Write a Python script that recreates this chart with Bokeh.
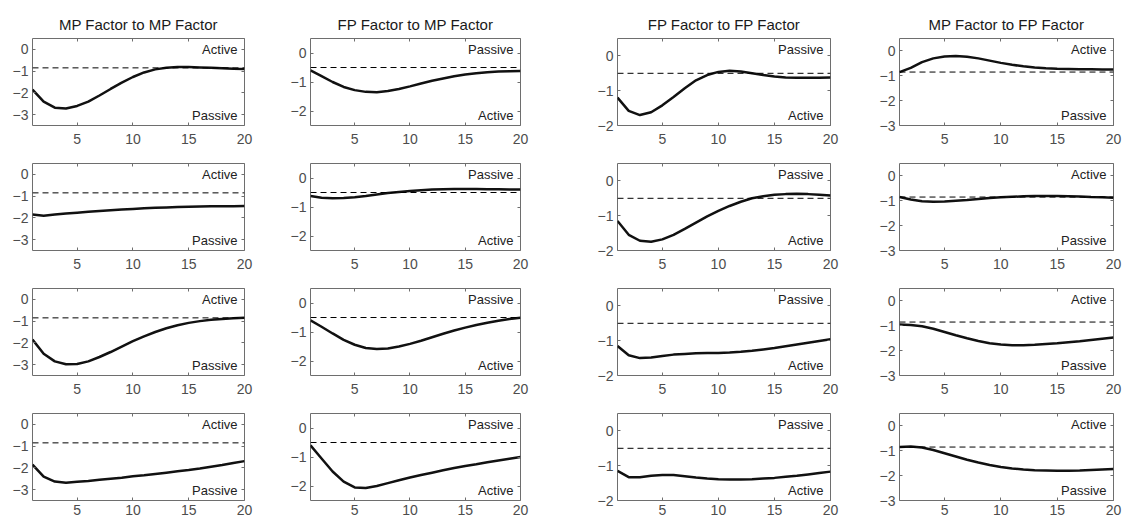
from bokeh.plotting import figure
from bokeh.layouts import column, row
from bokeh.models import LinearAxis, FixedTicker, Span, Label
from bokeh.embed import file_html
from bokeh.resources import INLINE

# horizons 1..20
horizon = list(range(1, 21))

titles = ["MP Factor to MP Factor", "FP Factor to MP Factor", "FP Factor to FP Factor", "MP Factor to FP Factor"]
top_words = ["Active", "Passive", "Passive", "Active"]
bottom_words = ["Passive", "Active", "Active", "Passive"]
y_lows = [-3.5, -2.5, -2, -3]
y_highs = [0.5, 0.5, 0.5, 0.5]
y_ticks = [[-3, -2, -1, 0], [-2, -1, 0], [-2, -1, 0], [-3, -2, -1, 0]]
x_ticks = [5, 10, 15, 20]
dash_levels = [-0.85, -0.5, -0.5, -0.85]

# MP Factor to MP Factor, one list per row
mp_mp = [
    [-1.85, -2.4, -2.68, -2.72, -2.6, -2.4, -2.12, -1.82, -1.53, -1.27, -1.06, -0.92, -0.84, -0.81, -0.81, -0.83, -0.85, -0.87, -0.89, -0.9],
    [-1.85, -1.9, -1.85, -1.8, -1.76, -1.72, -1.68, -1.65, -1.62, -1.59, -1.56, -1.54, -1.52, -1.5, -1.49, -1.48, -1.47, -1.46, -1.46, -1.45],
    [-1.85, -2.5, -2.85, -2.98, -2.97, -2.85, -2.65, -2.42, -2.17, -1.92, -1.7, -1.5, -1.33, -1.19, -1.08, -1.0, -0.94, -0.9, -0.87, -0.85],
    [-1.85, -2.4, -2.63, -2.68, -2.64, -2.6, -2.55, -2.5, -2.45, -2.39, -2.34, -2.28, -2.22, -2.16, -2.1, -2.03, -1.95, -1.87, -1.78, -1.69],
]
# FP Factor to MP Factor
fp_mp = [
    [-0.6, -0.8, -1.0, -1.17, -1.28, -1.34, -1.35, -1.31, -1.24, -1.15, -1.05, -0.96, -0.88, -0.8, -0.74, -0.7, -0.66, -0.64, -0.63, -0.62],
    [-0.62, -0.68, -0.7, -0.69, -0.66, -0.62, -0.57, -0.52, -0.48, -0.45, -0.42, -0.4, -0.39, -0.38, -0.38, -0.38, -0.39, -0.39, -0.4, -0.4],
    [-0.6, -0.82, -1.05, -1.27, -1.44, -1.55, -1.59, -1.57, -1.5, -1.41, -1.3, -1.18, -1.06, -0.95, -0.85, -0.76, -0.68, -0.61, -0.55, -0.51],
    [-0.6, -1.05, -1.5, -1.85, -2.05, -2.07, -2.0, -1.9, -1.8, -1.71, -1.62, -1.54, -1.46, -1.38, -1.31, -1.25, -1.18, -1.12, -1.06, -1.0],
]
# FP Factor to FP Factor
fp_fp = [
    [-1.2, -1.58, -1.7, -1.62, -1.42, -1.18, -0.93, -0.7, -0.55, -0.46, -0.43, -0.45, -0.5, -0.55, -0.59, -0.62, -0.63, -0.63, -0.63, -0.62],
    [-1.15, -1.55, -1.72, -1.75, -1.68, -1.55, -1.38, -1.2, -1.02, -0.86, -0.72, -0.6, -0.5, -0.44, -0.4, -0.38, -0.37, -0.38, -0.4, -0.42],
    [-1.15, -1.42, -1.5, -1.48, -1.44, -1.4, -1.38, -1.36, -1.35, -1.35, -1.34, -1.32, -1.29, -1.25, -1.21, -1.16, -1.11, -1.06, -1.01, -0.96],
    [-1.15, -1.33, -1.33, -1.29, -1.27, -1.27, -1.3, -1.34, -1.37, -1.39, -1.4, -1.4, -1.39, -1.37, -1.35, -1.32, -1.29, -1.25, -1.21, -1.17],
]
# MP Factor to FP Factor
mp_fp = [
    [-0.85, -0.68, -0.45, -0.3, -0.22, -0.2, -0.23, -0.3, -0.39, -0.48, -0.56, -0.62, -0.67, -0.7, -0.72, -0.73, -0.74, -0.74, -0.75, -0.75],
    [-0.85, -0.95, -1.02, -1.04, -1.03, -1.0, -0.97, -0.93, -0.89, -0.86, -0.84, -0.82, -0.81, -0.81, -0.81, -0.82, -0.83, -0.85, -0.86, -0.88],
    [-0.95, -0.97, -1.02, -1.12, -1.25, -1.38, -1.5, -1.61, -1.7, -1.75, -1.78, -1.78, -1.76, -1.73, -1.7, -1.66, -1.62, -1.57, -1.52, -1.47],
    [-0.85, -0.83, -0.87, -0.97, -1.1, -1.23, -1.36, -1.47, -1.57, -1.65, -1.71, -1.75, -1.78, -1.79, -1.8, -1.8, -1.79, -1.77, -1.75, -1.73],
]
responses = [mp_mp, fp_mp, fp_fp, mp_fp]

# layout in pixels (page starts at 0,0)
col_left = [32, 46, 57, 47]
col_frame = [212, 210, 213, 214]
col_right = [20, 40, 22, 11]
row_top = [38, 13, 13, 13]
frame_h = 87
row_bottom = [25, 25, 25, 20]

FONT = "Liberation Sans"
GREY = "#4d4d4d"


def make_panel(r, c):
    p = figure(frame_width=col_frame[c], frame_height=frame_h,
               x_range=(1, 20), y_range=(y_lows[c], y_highs[c]),
               min_border_left=col_left[c], min_border_right=col_right[c],
               min_border_top=row_top[r], min_border_bottom=row_bottom[r],
               output_backend="svg", toolbar_location=None,
               x_axis_type=None, y_axis_type=None)
    if r == 0:
        p.title.text = titles[c]
        p.title.align = "center"
        p.title.text_font = FONT
        p.title.text_font_size = "15px"
        p.title.text_font_style = "normal"
        p.title.text_color = "#1a1a1a"
        p.title.standoff = 12
    p.background_fill_color = "white"
    p.border_fill_color = "white"
    p.outline_line_color = "#6e6e6e"
    p.outline_line_width = 1
    p.grid.visible = False

    # axes on all four sides, ticks pointing inward, labels only left and bottom
    for side in ["below", "left", "above", "right"]:
        ax = LinearAxis()
        if side in ("below", "above"):
            ax.ticker = FixedTicker(ticks=x_ticks)
        else:
            ax.ticker = FixedTicker(ticks=y_ticks[c])
        ax.axis_line_color = None
        ax.major_tick_in = 3
        ax.major_tick_out = 0
        ax.major_tick_line_color = "#6e6e6e"
        ax.minor_tick_line_color = None
        ax.major_label_text_font = FONT
        ax.major_label_text_font_size = "14px"
        if side == "below":
            ax.major_label_text_color = GREY
            ax.major_label_standoff = 8 if r < 3 else 4
        elif side == "left":
            ax.major_label_text_color = GREY
            ax.major_label_standoff = 4
        else:
            # box ticks only, no labels
            ax.major_label_text_color = None
            ax.major_label_standoff = 0
        p.add_layout(ax, side)

    p.add_layout(Span(location=dash_levels[c], dimension="width",
                      line_color="black", line_width=1, line_dash="6 4"))
    p.line(horizon, responses[c][r], line_width=2.5, color="#111111")

    p.add_layout(Label(x=horizon[-1], y=y_highs[c], text=top_words[c],
                       x_offset=-7, y_offset=-3, text_align="right", text_baseline="top",
                       text_font=FONT, text_font_size="13px", text_color="#222222"))
    p.add_layout(Label(x=horizon[-1], y=y_lows[c], text=bottom_words[c],
                       x_offset=-7, y_offset=3, text_align="right", text_baseline="bottom",
                       text_font=FONT, text_font_size="13px", text_color="#222222"))
    return p


rows = []
for r in range(4):
    rows.append(row([make_panel(r, c) for c in range(4)]))
page = column(rows)

open("out.html", "w").write(file_html(page, INLINE))
